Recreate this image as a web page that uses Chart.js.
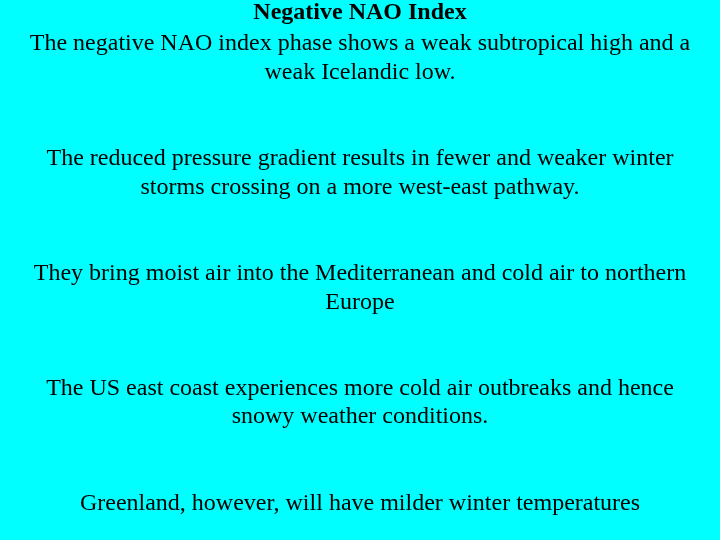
<!DOCTYPE html>
<html>
<head>
<meta charset="utf-8">
<script src="https://cdn.jsdelivr.net/npm/chart.js@4"></script>
<style>
  html, body { margin: 0; padding: 0; background: #00ffff; }
  #wrap { width: 720px; height: 540px; }
</style>
</head>
<body>
<div id="wrap"><canvas id="slide"></canvas></div>
<script>
const heading = "Negative NAO Index";
const paragraphs = [
  ["The negative NAO index phase shows a weak subtropical high and a", "weak Icelandic low."],
  ["The reduced pressure gradient results in fewer and weaker winter", "storms crossing on a more west-east pathway."],
  ["They bring moist air into the Mediterranean and cold air to northern", "Europe"],
  ["The US east coast experiences more cold air outbreaks and hence", "snowy weather conditions."],
  ["Greenland, however, will have milder winter temperatures"],
];

// blank lines between paragraphs keep the slide spacing
const bodyLines = [];
paragraphs.forEach((p, i) => {
  if (i > 0) bodyLines.push("", "");
  bodyLines.push(...p);
});

new Chart(document.getElementById("slide"), {
  type: "bar",
  data: { labels: [], datasets: [] },
  options: {
    responsive: true,
    maintainAspectRatio: false,
    animation: false,
    layout: { padding: 0 },
    scales: { x: { display: false }, y: { display: false } },
    plugins: {
      legend: { display: false },
      tooltip: { enabled: false },
      title: {
        display: true,
        text: heading,
        color: "#000",
        font: { family: "Liberation Serif", size: 24, weight: "bold", lineHeight: 1.1 },
        padding: { top: 0, bottom: 3 },
      },
      subtitle: {
        display: true,
        text: bodyLines,
        color: "#000",
        font: { family: "Liberation Serif", size: 24, lineHeight: 28.72 / 24 },
        padding: { top: 0, bottom: 0 },
      },
    },
  },
});
</script>
</body>
</html>
